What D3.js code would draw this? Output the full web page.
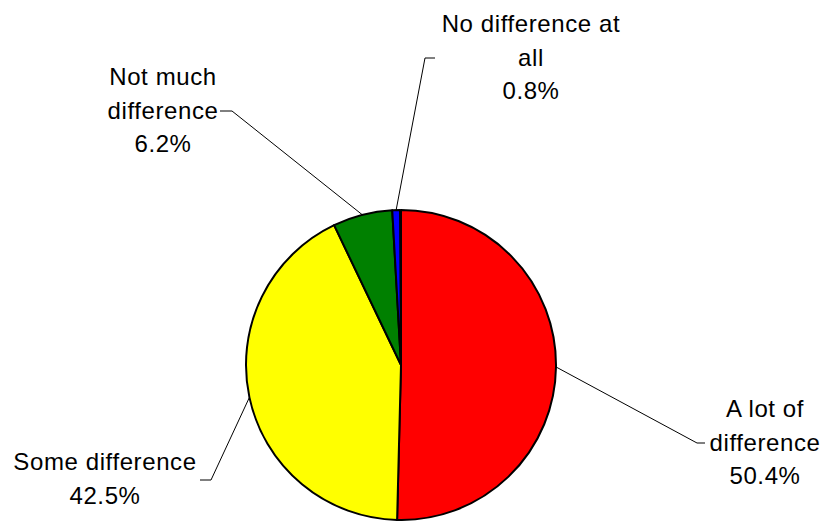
<!DOCTYPE html>
<html>
<head>
<meta charset="utf-8">
<script src="https://cdn.jsdelivr.net/npm/d3@7"></script>
<style>
  html, body { margin: 0; padding: 0; background: #fff; }
  svg { display: block; }
  text { font-family: Arial, "Liberation Sans", sans-serif; fill: #000; }
</style>
</head>
<body>
<svg id="chart" width="824" height="521"></svg>
<script>
// Survey answers, in drawing order clockwise from 12 o'clock
const categories = ["A lot of difference", "Some difference", "Not much difference", "No difference at all"];
const values = [50.4, 42.5, 6.2, 0.8];
const colors = ["#ff0000", "#ffff00", "#008000", "#0000ff"];
// Label text lines (the last line is the percentage)
const labelLines = [
  ["A lot of", "difference"],
  ["Some difference"],
  ["Not much", "difference"],
  ["No difference at", "all"]
];

// Layout
const width = 824, height = 521;
const cx = 401, cy = 365, radius = 155;
const fontSize = 24, lineHeight = 33.5, letterSpacing = 0.6;
// Where each label's text block sits, and the elbow of its leader line
const labelLayout = [
  { x: 765, y: 417, elbow: [697, 443], end: [705, 443] },
  { x: 105, y: 470, elbow: [211, 480], end: [200, 480] },
  { x: 163, y: 85,  elbow: [232, 111], end: [220, 111] },
  { x: 531, y: 32,  elbow: [425, 58],  end: [435, 58] }
];

const svg = d3.select("#chart");
const g = svg.append("g").attr("transform", `translate(${cx},${cy})`);

const pie = d3.pie().sort(null).value(d => d)
  .startAngle(0).endAngle(2 * Math.PI * d3.sum(values) / 100);
const arcs = pie(values);
const arc = d3.arc().innerRadius(0).outerRadius(radius);

g.selectAll("path.slice")
  .data(arcs)
  .join("path")
  .attr("class", "slice")
  .attr("d", arc)
  .attr("fill", (d, i) => colors[i])
  .attr("stroke", "#000")
  .attr("stroke-width", 2)
  .attr("stroke-linejoin", "round");

// Leader lines from each slice's rim midpoint to its label
const leaders = svg.append("g");
arcs.forEach((d, i) => {
  const a = (d.startAngle + d.endAngle) / 2;
  const px = cx + radius * Math.sin(a);
  const py = cy - radius * Math.cos(a);
  const L = labelLayout[i];
  leaders.append("polyline")
    .attr("points", [[px, py], L.elbow, L.end].map(p => p.join(",")).join(" "))
    .attr("fill", "none")
    .attr("stroke", "#000")
    .attr("stroke-width", 1);
});

// Labels: category text plus percentage
const fmt = d3.format(".1f");
const labels = svg.append("g");
arcs.forEach((d, i) => {
  const L = labelLayout[i];
  const lines = labelLines[i].concat([fmt(values[i]) + "%"]);
  const t = labels.append("text")
    .attr("text-anchor", "middle")
    .attr("font-size", fontSize)
    .attr("letter-spacing", letterSpacing);
  lines.forEach((s, k) => {
    t.append("tspan")
      .attr("x", L.x)
      .attr("y", L.y + k * lineHeight)
      .text(s);
  });
});
</script>
</body>
</html>
